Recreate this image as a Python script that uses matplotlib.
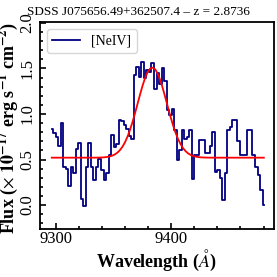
import matplotlib
matplotlib.use("Agg")
import matplotlib.pyplot as plt, numpy as np
from matplotlib.ticker import MultipleLocator

# spectrum around [NeIV] (observed frame), regular binning
wl_start = 9296.3
wl_step = 2.19
flux = [0.84, 0.79, 0.75, 0.65, 0.90, 0.42, 0.40, 0.21, 0.42, 0.35,
        0.62, 0.68, 0.07, -0.01, 0.42, 0.68, 0.42, 0.28, 0.42, 0.51,
        0.38, 0.28, 0.35, 0.55, 0.77, 0.64, 0.67, 0.93, 0.92, 0.88,
        0.84, 0.76, 0.73, 1.43, 1.52, 1.41, 1.57, 1.40, 1.48, 1.46,
        1.56, 1.27, 1.45, 1.33, 1.50, 1.36, 1.04, 0.99, 1.06, 0.82,
        0.50, 0.60, 0.82, 0.73, 0.75, 0.82, 0.29, 0.55, 0.55, 0.71,
        0.71, 0.57, 0.57, 0.65, 0.80, 0.36, 0.385, 0.30, 0.05, 0.35,
        0.82, 0.86, 0.93, 0.93, 0.70, 0.55, 0.55, 0.55, 0.82, 0.82,
        0.55, 0.42, 0.33, 0.165, 0.0]
wl = wl_start + wl_step * np.arange(len(flux))

# gaussian fit parameters
fit_cont = 0.52
fit_amp = 0.99
fit_center = 9383.5
fit_sigma = 12.6
model = fit_cont + fit_amp * np.exp(-0.5 * ((wl - fit_center) / fit_sigma) ** 2)

title = "SDSS J075656.49+362507.4 \u2013 z = 2.8736"

plt.rcParams["font.family"] = ["Liberation Serif", "DejaVu Serif"]
plt.rcParams["mathtext.fontset"] = "stix"

fig = plt.figure(figsize=(2.77, 2.77), dpi=100)
ax = fig.add_axes([0.1444, 0.1722, 0.8436, 0.7484])

ax.step(wl, flux, where="mid", color="navy", lw=1.3, label="[NeIV]")
ax.plot(wl, model, color="red", lw=1.3)

ax.set_xlim(9286.1, 9488.8)
ax.set_ylim(-0.267, 2.011)
ax.xaxis.set_major_locator(MultipleLocator(100))
ax.xaxis.set_minor_locator(MultipleLocator(20))
ax.yaxis.set_major_locator(MultipleLocator(0.5))
ax.yaxis.set_minor_locator(MultipleLocator(0.1))
ax.tick_params(which="both", direction="in", top=False, right=False, width=1.2, labelsize=12)
ax.tick_params(which="major", length=4)
ax.tick_params(which="minor", length=2.2)
ax.tick_params(axis="x", pad=1)
ax.tick_params(axis="y", pad=3.5)
for lab in ax.get_yticklabels():
    lab.set_rotation(90)
    lab.set_va("center")
for sp in ax.spines.values():
    sp.set_linewidth(1.3)

ax.set_xlabel(r"Wavelength ($\AA$)", fontsize=13, fontweight="bold", labelpad=1)
ax.set_ylabel(r"Flux ($\times$ $\mathbf{10^{-17}}$ erg s$^{\mathbf{-1}}$ cm$^{\mathbf{-2}}$)",
              fontsize=13, fontweight="bold")
ax.yaxis.set_label_coords(-0.085, 0.49)
fig.text(0.5, 0.978, title, ha="center", va="top", fontsize=9.5)
ax.legend(loc="upper left", fontsize=10, handlelength=2)

fig.savefig("out.png", dpi=100)
